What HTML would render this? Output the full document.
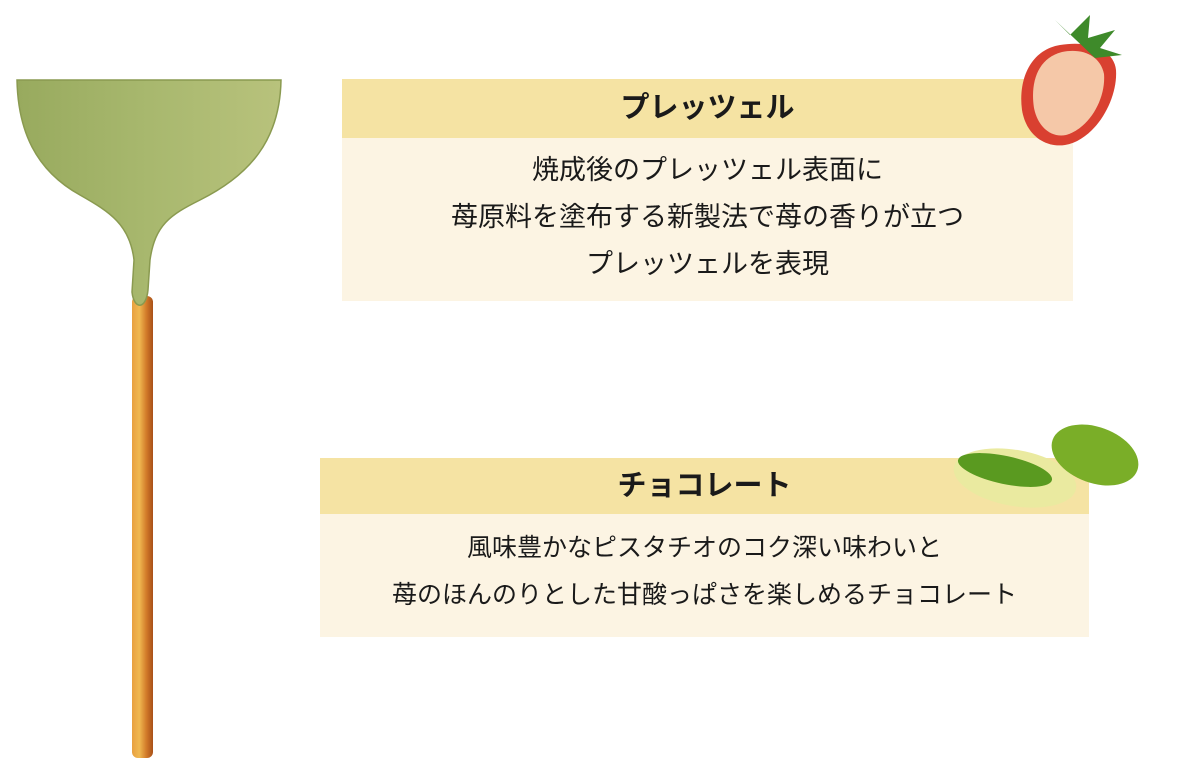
<!DOCTYPE html>
<html><head><meta charset="utf-8">
<style>
html,body{margin:0;padding:0;background:#fff;}
body{width:1200px;height:774px;position:relative;overflow:hidden;font-family:"Liberation Sans","Noto Sans CJK JP",sans-serif;color:#1a1a1a;}
.hd{position:absolute;background:#f5e3a3;text-align:center;font-weight:bold;font-size:29px;}
.bd{position:absolute;background:#fcf4e3;text-align:center;}
svg{position:absolute;left:0;top:0;}
</style></head><body>
<div class="hd" style="left:342px;top:79px;width:731px;height:59px;line-height:59px;">プレッツェル</div>
<div class="bd" style="left:342px;top:138px;width:731px;height:163px;line-height:47px;padding-top:9px;box-sizing:border-box;font-size:27px;">焼成後のプレッツェル表面に<br>苺原料を塗布する新製法で苺の香りが立つ<br>プレッツェルを表現</div>
<div class="hd" style="left:320px;top:458px;width:769px;height:56px;line-height:56px;">チョコレート</div>
<div class="bd" style="left:320px;top:514px;width:769px;height:123px;line-height:47px;padding-top:11px;box-sizing:border-box;font-size:25px;">風味豊かなピスタチオのコク深い味わいと<br>苺のほんのりとした甘酸っぱさを楽しめるチョコレート</div>
<svg width="1200" height="774" viewBox="0 0 1200 774">
<defs>
<linearGradient id="st" x1="0" x2="1"><stop offset="0" stop-color="#e8a040"/><stop offset=".35" stop-color="#f0b850"/><stop offset=".7" stop-color="#d07828"/><stop offset="1" stop-color="#a85018"/></linearGradient>
<linearGradient id="gr" x1="0" x2="1"><stop offset="0" stop-color="#98aa5e"/><stop offset=".5" stop-color="#a8b86e"/><stop offset="1" stop-color="#b8c27c"/></linearGradient>
</defs>
<rect x="132" y="296" width="21" height="462" rx="6" fill="url(#st)"/>
<path d="M17 80 L281 80 C280 140 250 175 200 200 C170 215 155 225 150 260 L148 290 C146 310 134 310 132 292 L134 260 C130 225 110 212 80 195 C35 170 18 130 17 80 Z" fill="url(#gr)" stroke="#8a9a50" stroke-width="1.5"/>
<path d="M1060 45 C1030 50 1018 80 1022 110 C1026 135 1045 148 1065 145 C1095 140 1118 100 1116 70 C1114 50 1090 40 1060 45 Z" fill="#d94030"/>
<path d="M1062 52 C1038 58 1030 82 1034 108 C1038 128 1052 138 1066 135 C1090 128 1106 98 1104 74 C1100 55 1082 48 1062 52 Z" fill="#f5c8a8"/>
<path d="M1055 20 L1070 35 L1090 15 L1088 38 L1115 30 L1100 48 L1122 55 L1095 58 Z" fill="#3e8a2a"/>
<ellipse cx="1015" cy="478" rx="62" ry="28" fill="#eaeaa0" transform="rotate(10 1015 478)"/>
<ellipse cx="1005" cy="470" rx="48" ry="14" fill="#5a9a20" transform="rotate(12 1005 470)"/>
<ellipse cx="1095" cy="455" rx="45" ry="28" fill="#7aae28" transform="rotate(20 1095 455)"/>
</svg>
</body></html>
